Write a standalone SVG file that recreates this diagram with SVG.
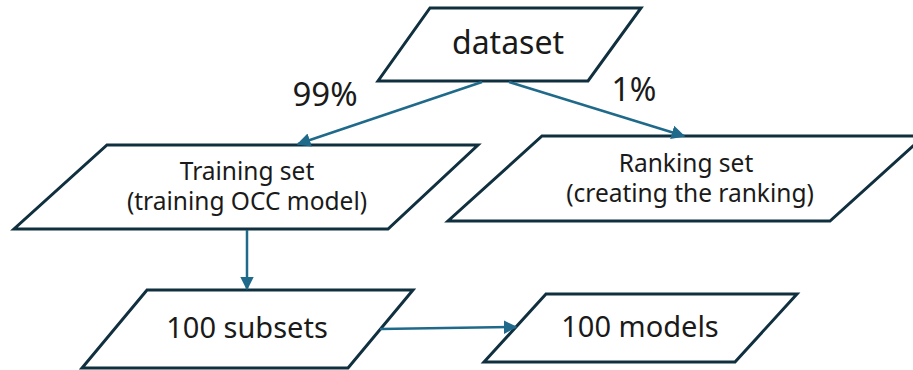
<svg xmlns="http://www.w3.org/2000/svg" width="913" height="370" viewBox="0 0 913 370">
<style>
.box{fill:#ffffff;stroke:#10303f;stroke-width:3;stroke-linejoin:miter}
.t{font-family:"Noto Sans","DejaVu Sans",sans-serif;fill:#1a1a1a;text-anchor:middle}
.c{stroke:#1f6a8a;stroke-width:2.5;fill:none;marker-end:url(#ah)}
</style>
<defs>
<marker id="ah" viewBox="0 0 10 10" refX="9" refY="5" markerWidth="5.5" markerHeight="5.5" orient="auto" markerUnits="strokeWidth">
<path d="M0,0 L10,5 L0,10 z" fill="#1f6a8a"/>
</marker>
</defs>
<rect width="913" height="370" fill="#ffffff"/>
<g id="dataset">
<polygon class="box" points="430,8 641,8 588,81 378,81"/>
<text class="t" x="508" y="54" font-size="32">dataset</text>
</g>
<g id="training">
<polygon class="box" points="107,145 478,145 388,229 14,229"/>
<text class="t" x="247" y="180" font-size="24.5">Training set</text>
<text class="t" x="247" y="210" font-size="24.5">(training OCC model)</text>
</g>
<g id="ranking">
<polygon class="box" points="542,136 924,136 830,221 448,221"/>
<text class="t" x="686" y="172" font-size="24.5">Ranking set</text>
<text class="t" x="690" y="202" font-size="24.5">(creating the ranking)</text>
</g>
<g id="subsets">
<polygon class="box" points="147,290 413,290 348,368 82,368"/>
<text class="t" x="247" y="338" font-size="29">100 subsets</text>
</g>
<g id="models">
<polygon class="box" points="546,294 797,294 735,362 484,362"/>
<text class="t" x="640" y="337" font-size="29">100 models</text>
</g>
<g id="connectors">
<line class="c" x1="482" y1="82" x2="298" y2="144"/>
<line class="c" x1="509" y1="82" x2="684" y2="136"/>
<line class="c" x1="247" y1="230" x2="247" y2="289"/>
<line class="c" x1="380" y1="329" x2="516" y2="327"/>
<text class="t" x="325" y="106" font-size="33">99%</text>
<text class="t" x="634" y="101" font-size="32">1%</text>
</g>
</svg>
